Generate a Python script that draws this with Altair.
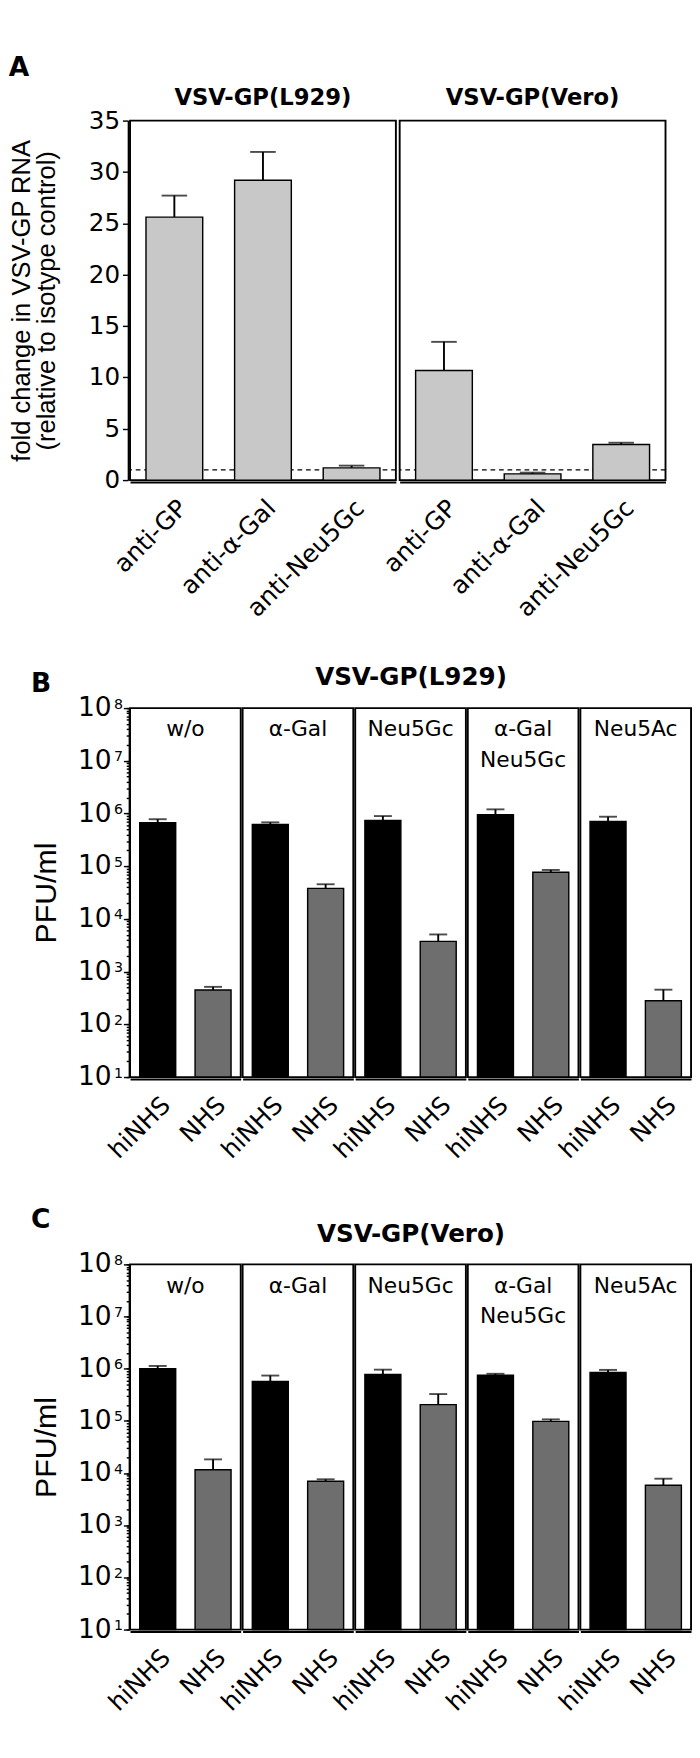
import altair as alt
import pandas as pd

FONT = "DejaVu Sans"
TITLE_FONT = "Liberation Sans"

# ---------------- Panel A data ----------------
a_groups = ["VSV-GP(L929)", "VSV-GP(L929)", "VSV-GP(L929)",
            "VSV-GP(Vero)", "VSV-GP(Vero)", "VSV-GP(Vero)"]
a_group_order = ["VSV-GP(L929)", "VSV-GP(Vero)"]
a_antibodies = ["anti-GP", "anti-α-Gal", "anti-Neu5Gc",
                "anti-GP", "anti-α-Gal", "anti-Neu5Gc"]
a_antibody_order = ["anti-GP", "anti-α-Gal", "anti-Neu5Gc"]
a_means = [25.6, 29.2, 1.19, 10.67, 0.61, 3.46]
a_upper = [27.7, 31.95, 1.41, 13.46, 0.73, 3.64]
a_reference = 1
a_ticks = [0, 5, 10, 15, 20, 25, 30, 35]

# ---------------- Panels B / C data ----------------
treatments = ["w/o", "α-Gal", "Neu5Gc", "α-Gal\nNeu5Gc", "Neu5Ac"]
sera = ["hiNHS", "NHS"]
b_means = [6.7e5, 449, 6.2e5, 3.8e4, 7.4e5, 3750, 9.5e5, 7.7e4, 7.1e5, 281]
b_upper = [7.8e5, 515, 6.8e5, 4.55e4, 8.95e5, 5080, 1.2e6, 8.5e4, 8.7e5, 455]
c_means = [1.0e6, 1.16e4, 5.7e5, 6980, 7.8e5, 2.05e5, 7.5e5, 9.8e4, 8.5e5, 5840]
c_upper = [1.13e6, 1.83e4, 7.4e5, 7600, 9.6e5, 3.27e5, 8.0e5, 1.07e5, 9.5e5, 7800]
log_floor = 10
log_exponents = [1, 2, 3, 4, 5, 6, 7, 8]
major_ticks = [10.0 ** e for e in log_exponents]
minor_ticks = [m * 10.0 ** e for e in log_exponents[:-1] for m in range(2, 10)]

# ---------------- Panel A ----------------
a_df = pd.DataFrame({"group": a_groups, "antibody": a_antibodies,
                     "mean": a_means, "upper": a_upper})

A_W = 281
A_H = 380

xA = alt.X("antibody:N", sort=a_antibody_order, title=None,
           scale=alt.Scale(paddingInner=0.36, paddingOuter=0.18),
           axis=alt.Axis(labelAngle=-45, labelAlign="right", labelBaseline="top",
                         labelPadding=14, ticks=False, labelFontSize=26))
yA_scale = alt.Scale(domain=[0, 35], nice=False)

dashA = alt.Chart().mark_rule(strokeDash=[5, 4], strokeWidth=1.5, color="black").encode(
    y=alt.YDatum(datum=a_reference, scale=yA_scale)
).transform_filter(alt.datum.antibody == "anti-GP")

barsA = alt.Chart().mark_bar(color="#c8c8c8", stroke="black", strokeWidth=1.5).encode(
    x=xA,
    y=alt.Y("mean:Q", scale=yA_scale,
            axis=alt.Axis(values=a_ticks, tickSize=6, labelPadding=3, labelFontSize=26,
                          labelFlush=False,
                          title=["fold change in VSV-GP RNA", "(relative to isotype control)"],
                          titleFont=TITLE_FONT, titleFontSize=27, titleFontWeight="normal",
                          titlePadding=30, titleLineHeight=26)),
)
errA = alt.Chart().mark_rule(strokeWidth=2, color="black").encode(
    x=xA, y=alt.Y("mean:Q", scale=yA_scale), y2="upper:Q")
capA = alt.Chart().mark_tick(thickness=2, size=27, color="black").encode(
    x=xA, y=alt.Y("upper:Q", scale=yA_scale))

panelA = alt.layer(dashA, barsA, errA, capA, data=a_df).properties(
    width=A_W, height=A_H
).facet(
    column=alt.Column("group:N", sort=a_group_order,
                      header=alt.Header(title=None, labelFontSize=24, labelFontWeight="bold",
                                        labelPadding=10, labelFont=FONT)),
    spacing=0,
).properties(
    title=alt.Title("A", anchor="start", frame="bounds", fontSize=28, fontWeight="bold",
                    offset=6)
)

# ---------------- Panels B / C ----------------
L_W = 117


def log_panel(means, upper, header_title, letter, letter_dy, height):
    df = pd.DataFrame({
        "treatment": [t for t in treatments for _ in sera],
        "serum": sera * len(treatments),
        "mean": means,
        "upper": upper,
    })
    yscale = alt.Scale(type="log", domain=[10, 1e8], nice=False)
    x = alt.X("serum:N", sort=sera, title=None,
              scale=alt.Scale(paddingInner=0.35, paddingOuter=0.175),
              axis=alt.Axis(labelAngle=-45, labelAlign="right", labelBaseline="top",
                            labelPadding=14, ticks=False, labelFontSize=26))
    bars = alt.Chart().mark_bar(stroke="black", strokeWidth=1.5).encode(
        x=x,
        y=alt.Y("mean:Q", scale=yscale, stack=None,
                axis=alt.Axis(orient="left", values=major_ticks, labelExpr="'10'",
                              tickSize=6, labelPadding=13, labelFontSize=28,
                              labelFlush=False, labelOverlap=False,
                              title="PFU/ml", titleFont=TITLE_FONT, titleFontSize=32,
                              titleFontWeight="normal", titlePadding=16)),
        y2=alt.datum(log_floor),
        color=alt.Color("serum:N", scale=alt.Scale(domain=sera, range=["#000000", "#6e6e6e"]),
                        legend=None),
    )
    errs = alt.Chart().mark_rule(strokeWidth=2, color="black").encode(
        x=x,
        y=alt.Y("mean:Q", scale=yscale,
                axis=alt.Axis(orient="left", values=major_ticks + minor_ticks,
                              labelExpr="abs(log(datum.value)/LN10 - round(log(datum.value)/LN10)) < 0.001 ? format(round(log(datum.value)/LN10), 'd') : ''",
                              tickSize=3, domain=False, labelFontSize=15, labelPadding=4,
                              labelBaseline="alphabetic", labelFlush=False,
                              labelOverlap=False, title=None)),
        y2="upper:Q",
    )
    caps = alt.Chart().mark_tick(thickness=2, size=19, color="black").encode(
        x=x, y=alt.Y("upper:Q", scale=yscale, axis=None))
    labels = alt.Chart().mark_text(fontSize=23, lineBreak="\n", baseline="alphabetic",
                                   align="center", color="black", font=FONT,
                                   lineHeight=32).encode(
        text="treatment:N", x=alt.value(L_W / 2), y=alt.value(30)
    ).transform_filter(alt.datum.serum == "hiNHS")

    return alt.layer(bars, errs, caps, labels, data=df).resolve_axis(
        y="independent"
    ).properties(width=L_W, height=height).facet(
        column=alt.Column("treatment:N", sort=treatments,
                          header=alt.Header(labels=False, title=header_title,
                                            titleFontSize=26, titleFontWeight="bold",
                                            titleFont=FONT, titlePadding=8)),
        spacing=0,
    ).properties(
        title=alt.Title(letter, anchor="start", frame="bounds", fontSize=28,
                        fontWeight="bold", dy=letter_dy)
    )


panelB = log_panel(b_means, b_upper, "VSV-GP(L929)", "B", 38, 390)
panelC = log_panel(c_means, c_upper, "VSV-GP(Vero)", "C", 16, 386)

chart = alt.concat(panelA, panelB, panelC, columns=1, spacing=46, align="none").properties(
    padding=0
).configure(
    font=FONT
).configure_view(
    stroke="black", strokeWidth=2
).configure_axis(
    domainColor="black", domainWidth=2, tickColor="black", tickWidth=1.5,
    labelColor="black", titleColor="black", labelFont=FONT, titleFont=FONT, grid=False
).configure_header(
    labelColor="black", titleColor="black"
).configure_title(
    font=FONT, color="black"
)

chart.save("out.html", embed_options={"renderer": "svg", "actions": False})
